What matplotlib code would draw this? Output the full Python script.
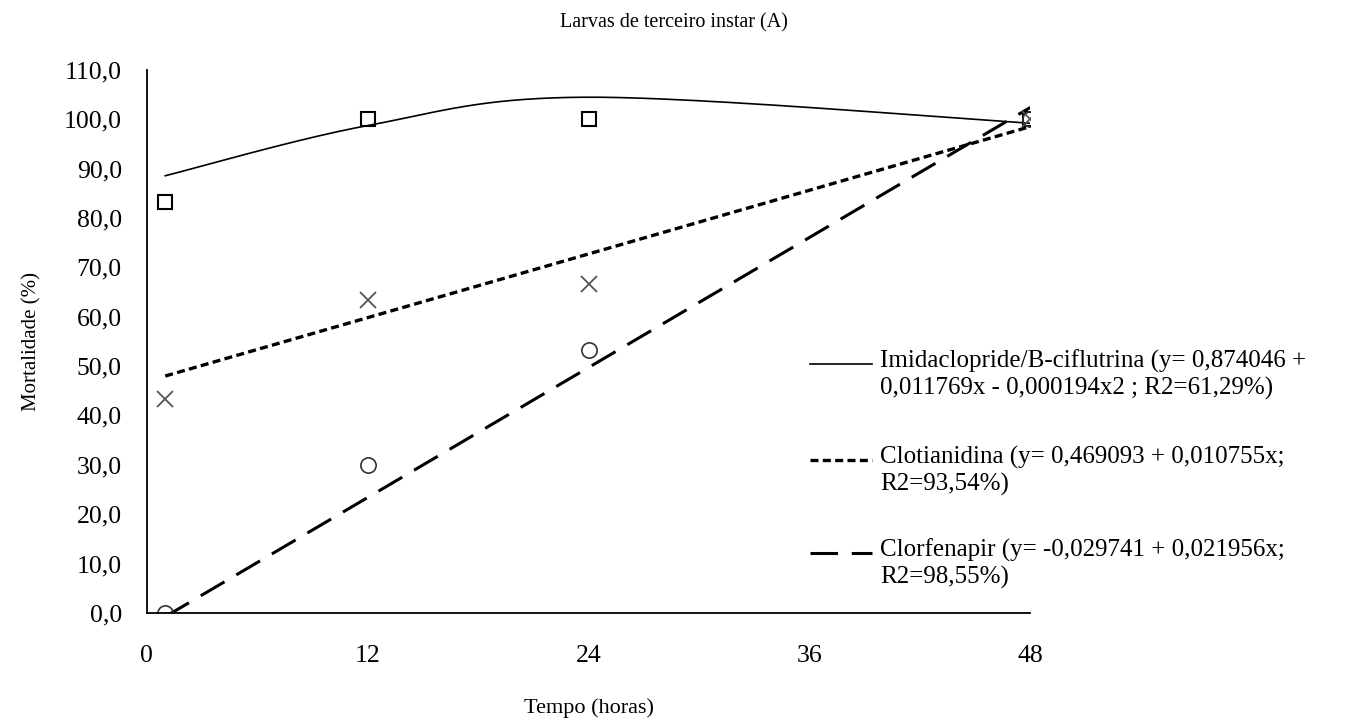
# Mortalidade de larvas de terceiro instar ao longo do tempo

import numpy as np
import matplotlib.pyplot as plt
from matplotlib.lines import Line2D

plt.rcParams['font.family'] = ['Liberation Serif', 'DejaVu Serif']

tempo = [1, 12, 24, 48]
imidacloprid = [83.3, 100.0, 100.0, 100.0]
clotianidina = [43.3, 63.3, 66.7, 100.0]
clorfenapir = [0.0, 30.0, 53.3, 100.0]

# coeficientes das linhas de tendencia (da legenda)
coef_imid = [0.874046, 0.011769, -0.000194]
coef_clot = [0.469093, 0.010755]
coef_clorf = [-0.029741, 0.021956]

labels = [
    "Imidaclopride/B-ciflutrina (y= 0,874046 +\n0,011769x - 0,000194x2 ; R2=61,29%)",
    "Clotianidina (y= 0,469093 + 0,010755x;\nR2=93,54%)",
    "Clorfenapir (y= -0,029741 + 0,021956x;\nR2=98,55%)",
]


def excel_smooth(x, y, n=60):
    # linha suavizada como no Excel (bezier com tangentes catmull-rom)
    p = np.column_stack([x, y]).astype(float)
    p = np.vstack([p[0], p, p[-1]])
    t = np.linspace(0, 1, n)[:, None]
    out = []
    for i in range(1, len(p) - 2):
        a, d = p[i], p[i + 1]
        b = a + (p[i + 1] - p[i - 1]) / 6
        c = d - (p[i + 2] - p[i]) / 6
        seg = (1 - t) ** 3 * a + 3 * (1 - t) ** 2 * t * b + 3 * (1 - t) * t ** 2 * c + t ** 3 * d
        out.append(seg)
    out = np.vstack(out)
    return out[:, 0], out[:, 1]


fig = plt.figure(figsize=(13.47, 7.21), dpi=100)
ax = fig.add_axes([0.109, 0.150, 0.656, 0.753])

tt = np.array(tempo, dtype=float)
fit_imid = 100 * np.polyval(coef_imid[::-1], tt)
xs, ys = excel_smooth(tt, fit_imid)

xx = np.array([tempo[0], tempo[-1]], dtype=float)
y_clot = 100 * np.polyval(coef_clot[::-1], xx)
y_clorf = 100 * np.polyval(coef_clorf[::-1], xx)

styles = [
    dict(color='black', lw=1.2, ls='-'),
    dict(color='black', lw=2.4, ls=(0, (2.4, 1.3))),
    dict(color='black', lw=2.2, ls=(0, (9, 4.5))),
]

ax.plot(xs, ys, **styles[0])
ax.plot(xx, y_clot, **styles[1])
ax.plot(xx, y_clorf, **styles[2])

ax.plot(tempo, imidacloprid, 's', ms=10, mfc='none', mec='black', mew=1.5)
ax.plot(tempo, clotianidina, 'x', ms=11, color='#555555', mew=1.3)
ax.plot(tempo, clorfenapir, 'o', ms=11, mfc='none', mec='#333333', mew=1.2)

ax.set_xlim(0, 48)
ax.set_ylim(0, 110)
ax.set_xticks([0, 12, 24, 36, 48])
ax.set_yticks(np.arange(0, 111, 10))
ax.set_yticklabels([f"{v:.1f}".replace('.', ',') for v in np.arange(0, 111, 10)])
ax.tick_params(length=0, labelsize=18.5)
ax.tick_params(axis='y', pad=18)
ax.tick_params(axis='x', pad=23)
for s in ['top', 'right']:
    ax.spines[s].set_visible(False)
for s in ['left', 'bottom']:
    ax.spines[s].set_linewidth(1.3)

ax.set_xlabel("Tempo (horas)", fontsize=16, labelpad=23)
ax.set_ylabel("Mortalidade (%)", fontsize=15, labelpad=16)
fig.text(0.5, 0.968, "Larvas de terceiro instar (A)", ha='center', va='center', fontsize=14.5)

# legenda manual
leg_y = [364, 460, 553]
for sty, lab, y in zip(styles, labels, leg_y):
    yf = 1 - y / 721
    fig.add_artist(Line2D([810 / 1347, 872 / 1347], [yf, yf], transform=fig.transFigure, **sty))
    fig.text(880 / 1347, yf + 14 / 721, lab, ha='left', va='top', fontsize=18, linespacing=1.2)

plt.savefig("out.png", dpi=100)
